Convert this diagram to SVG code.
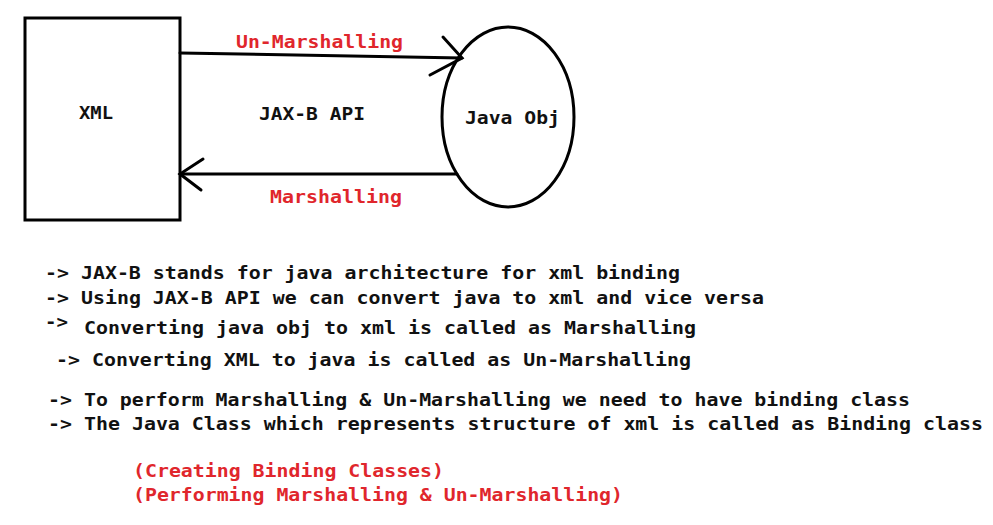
<svg xmlns="http://www.w3.org/2000/svg" width="993" height="525" viewBox="0 0 993 525">
<style>
.t{font-family:"DejaVu Sans Mono","Liberation Mono",monospace;font-weight:bold;font-size:18px;fill:#111}
.r{fill:#e0262c}
.s{fill:none;stroke:#000;stroke-width:3;stroke-linecap:round}
</style>
<rect width="993" height="525" fill="#fff"/>
<g id="xml">
<rect class="s" x="25" y="18" width="155" height="202"/>
<text class="t" x="79" y="119" textLength="34" lengthAdjust="spacingAndGlyphs">XML</text>
</g>
<g id="javaobj">
<ellipse class="s" cx="508" cy="117" rx="66" ry="90"/>
<text class="t" x="465" y="124" textLength="95" lengthAdjust="spacingAndGlyphs">Java Obj</text>
</g>
<g id="connectors">
<polyline class="s" points="180,53 462,58"/>
<polyline class="s" points="443,37 462,58 430,75"/>
<polyline class="s" points="457,174 180,174"/>
<polyline class="s" points="203,159 180,174 201,190"/>
<text class="t r" x="236" y="48" textLength="167" lengthAdjust="spacingAndGlyphs">Un-Marshalling</text>
<text class="t r" x="270" y="203" textLength="132" lengthAdjust="spacingAndGlyphs">Marshalling</text>
<text class="t" x="259" y="120" textLength="106" lengthAdjust="spacingAndGlyphs">JAX-B API</text>
</g>
<g id="notes">
<text class="t" x="45" y="279" textLength="635" lengthAdjust="spacingAndGlyphs">-&gt; JAX-B stands for java architecture for xml binding</text>
<text class="t" x="45" y="304" textLength="719" lengthAdjust="spacingAndGlyphs">-&gt; Using JAX-B API we can convert java to xml and vice versa</text>
<text class="t" x="45" y="328" textLength="23" lengthAdjust="spacingAndGlyphs">-&gt;</text>
<text class="t" x="84" y="334" textLength="612" lengthAdjust="spacingAndGlyphs">Converting java obj to xml is called as Marshalling</text>
<text class="t" x="56" y="366" textLength="635" lengthAdjust="spacingAndGlyphs">-&gt; Converting XML to java is called as Un-Marshalling</text>
<text class="t" x="48" y="406" textLength="862" lengthAdjust="spacingAndGlyphs">-&gt; To perform Marshalling &amp; Un-Marshalling we need to have binding class</text>
<text class="t" x="48" y="430" textLength="935" lengthAdjust="spacingAndGlyphs">-&gt; The Java Class which represents structure of xml is called as Binding class</text>
<text class="t r" x="133" y="477" textLength="311" lengthAdjust="spacingAndGlyphs">(Creating Binding Classes)</text>
<text class="t r" x="133" y="501" textLength="490" lengthAdjust="spacingAndGlyphs">(Performing Marshalling &amp; Un-Marshalling)</text>
</g>
</svg>
